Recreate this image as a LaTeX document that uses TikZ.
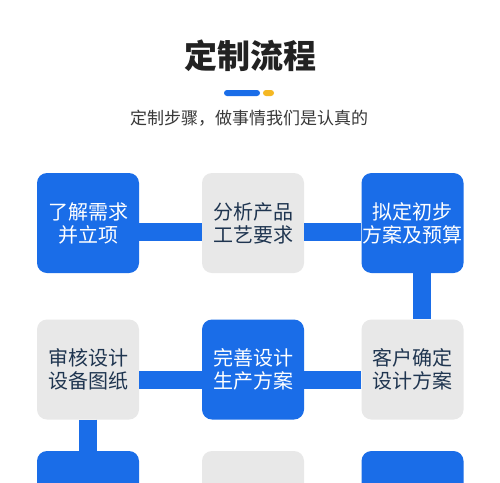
\documentclass[tikz,border=0pt]{standalone}
\usepackage{fontspec}
\newfontfamily\cjk{Noto Sans CJK SC}
\usepackage{xcolor}
\usepackage{tikz}
\usetikzlibrary{calc}
\usetikzlibrary{positioning}
\definecolor{flowblue}{HTML}{1A6DE8}
\definecolor{flowgray}{HTML}{E8E8E8}
\definecolor{flowtext}{HTML}{1F3550}
\definecolor{titlegray}{HTML}{222222}
\definecolor{flowyellow}{HTML}{F5B823}

\begin{document}
\begin{tikzpicture}[x=1pt, y=-1pt,
  bluebox/.style={rectangle, fill=flowblue, text=white, minimum width=102pt, minimum height=100pt, inner sep=0pt, align=center, rounded corners=10pt, font=\cjk\fontsize{20}{23}\selectfont},
  graybox/.style={rectangle, fill=flowgray, text=flowtext, minimum width=102pt, minimum height=100pt, inner sep=0pt, align=center, rounded corners=10pt, font=\cjk\fontsize{20}{23}\selectfont},
  bar/.style={draw=flowblue, line width=18pt}]
  \useasboundingbox (0,0) rectangle (500,482);
  \fill[white] (0,0) rectangle (500,482);
  \clip (0,0) rectangle (500,482);

  \node[text=titlegray, font=\cjk\bfseries\fontsize{33}{36}\selectfont] (title) at (250,56) {定制流程};
  \fill[flowblue, rounded corners=3pt] (224,90) rectangle (260,96);
  \fill[flowyellow, rounded corners=3pt] (263,90) rectangle (274,96);
  \node[text=titlegray!90, font=\cjk\fontsize{17}{20}\selectfont] (subtitle) at (249,118) {定制步骤，做事情我们是认真的};

  \node[bluebox] (demand) at (88,223) {了解需求\\并立项};
  \node[graybox] (analyse) at (253,223) {分析产品\\工艺要求};
  \node[bluebox] (draft) at (412.5,223) {拟定初步\\方案及预算};
  \node[graybox] (confirm) at (412.5,369.5) {客户确定\\设计方案};
  \node[bluebox] (perfect) at (253,369.5) {完善设计\\生产方案};
  \node[graybox] (review) at (88,369.5) {审核设计\\设备图纸};
  \node[bluebox] (next1) at (88,501) {};
  \node[graybox] (next2) at (253,501) {};
  \node[bluebox] (next3) at (412.5,501) {};

  \draw[bar] ([yshift=-9pt]demand.east) -- ([yshift=-9pt]analyse.west);
  \draw[bar] ([yshift=-9pt]analyse.east) -- ([yshift=-9pt]draft.west);
  \draw[bar] ([xshift=9pt]draft.south) -- ([xshift=9pt]confirm.north);
  \draw[bar] ([yshift=-10pt]confirm.west) -- ([yshift=-10pt]perfect.east);
  \draw[bar] ([yshift=-10pt]perfect.west) -- ([yshift=-10pt]review.east);
  \draw[bar] (review.south) -- (next1.north);
\end{tikzpicture}
\end{document}
